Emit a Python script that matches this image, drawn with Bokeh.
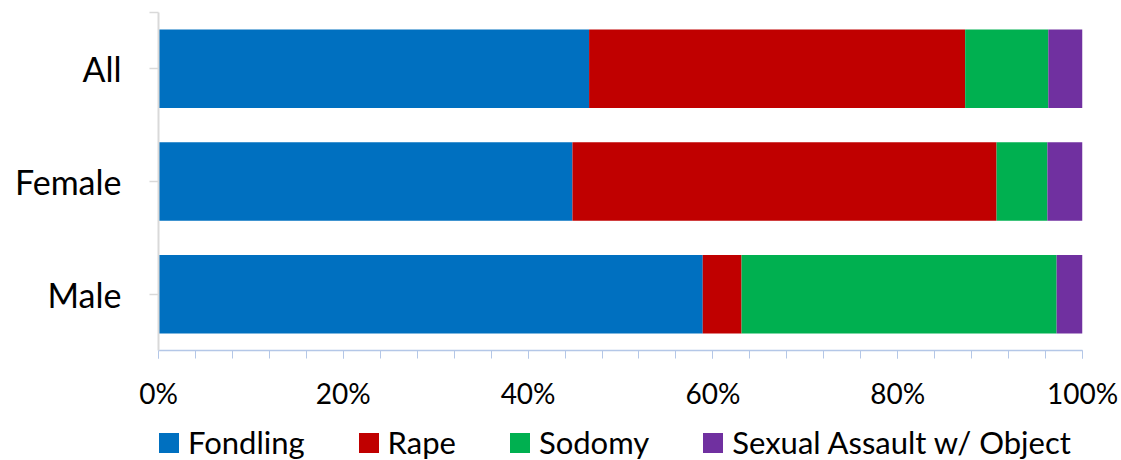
from bokeh.plotting import figure
from bokeh.layouts import column
from bokeh.models import ColumnDataSource, Range1d, FixedTicker, Legend, LegendItem, PrintfTickFormatter
from bokeh.embed import file_html
from bokeh.resources import INLINE

categories = ["All", "Female", "Male"]
fondling = [46.6, 44.8, 58.9]
rape = [40.7, 45.9, 4.2]
sodomy = [9.0, 5.5, 34.1]
sexual_object = [3.7, 3.8, 2.8]

series_names = ["Fondling", "Rape", "Sodomy", "Sexual Assault w/ Object"]
series_keys = ["fondling", "rape", "sodomy", "sexual_object"]
colors = ["#0070C0", "#C00000", "#00B050", "#7030A0"]
x_ticks = [0, 20, 40, 60, 80, 100]

FONT = "Lato"

n = len(categories)
ypos = [n - i - 0.5 for i in range(n)]

source = ColumnDataSource(dict(
    y=ypos, cat=categories, fondling=fondling, rape=rape,
    sodomy=sodomy, sexual_object=sexual_object,
))

p = figure(width=1121, height=412, output_backend="svg", toolbar_location=None,
           x_range=Range1d(0, 100), y_range=Range1d(0, n),
           min_border_left=158, min_border_right=39, min_border_top=12, min_border_bottom=60)
p.outline_line_color = None
p.xgrid.visible = False
p.ygrid.visible = False

renderers = p.hbar_stack(series_keys, y="y", height=0.697, color=colors, source=source,
                         line_color=None)

# x axis
xa = p.xaxis[0]
xa.ticker = FixedTicker(ticks=x_ticks, minor_ticks=list(range(0, 101, 4)))
xa.formatter = PrintfTickFormatter(format="%d%%")
xa.axis_line_color = "#B4C7E7"
xa.axis_line_width = 1.5
xa.major_tick_line_color = "#B4C7E7"
xa.minor_tick_line_color = "#B4C7E7"
xa.major_tick_in = 0
xa.major_tick_out = 8
xa.minor_tick_in = 0
xa.minor_tick_out = 8
xa.major_label_text_font = FONT
xa.major_label_text_font_size = "28px"
xa.major_label_text_color = "#000000"
xa.major_label_standoff = 17

# y axis
ya = p.yaxis[0]
ya.ticker = FixedTicker(ticks=ypos + [n], minor_ticks=[])
ya.major_label_overrides = {**{y: c for y, c in zip(ypos, categories)}, n: ""}
ya.axis_line_color = "#D9D9D9"
ya.axis_line_width = 2
ya.major_tick_line_color = "#D9D9D9"
ya.major_tick_line_width = 1.5
ya.major_tick_in = 0
ya.major_tick_out = 9
ya.minor_tick_line_color = None
ya.major_label_text_font = FONT
ya.major_label_text_font_size = "34px"
ya.major_label_text_color = "#000000"
ya.major_label_standoff = 28

# legend strip below the chart (its bars fall outside its own view, only the legend shows)
lf = figure(width=1121, height=48, output_backend="svg", toolbar_location=None,
            x_axis_location=None, y_axis_location=None,
            x_range=Range1d(0, 100), y_range=Range1d(100, 101),
            min_border=0)
lf.outline_line_color = None
lf.xgrid.visible = False
lf.ygrid.visible = False
leg_renderers = lf.hbar_stack(series_keys, y="y", height=0.697, color=colors, source=source,
                              line_color=None)

legend = Legend(items=[LegendItem(label=nm, renderers=[r]) for nm, r in zip(series_names, leg_renderers)],
                orientation="horizontal", location=(-2, -1),
                glyph_width=25, glyph_height=25, label_standoff=7, spacing=51,
                padding=0, margin=0, border_line_color=None, background_fill_alpha=0,
                label_text_font=FONT, label_text_font_size="31px", label_text_color="#000000")
lf.add_layout(legend, "center")

layout = column(p, lf, spacing=0)
open("out.html", "w").write(file_html(layout, INLINE))
